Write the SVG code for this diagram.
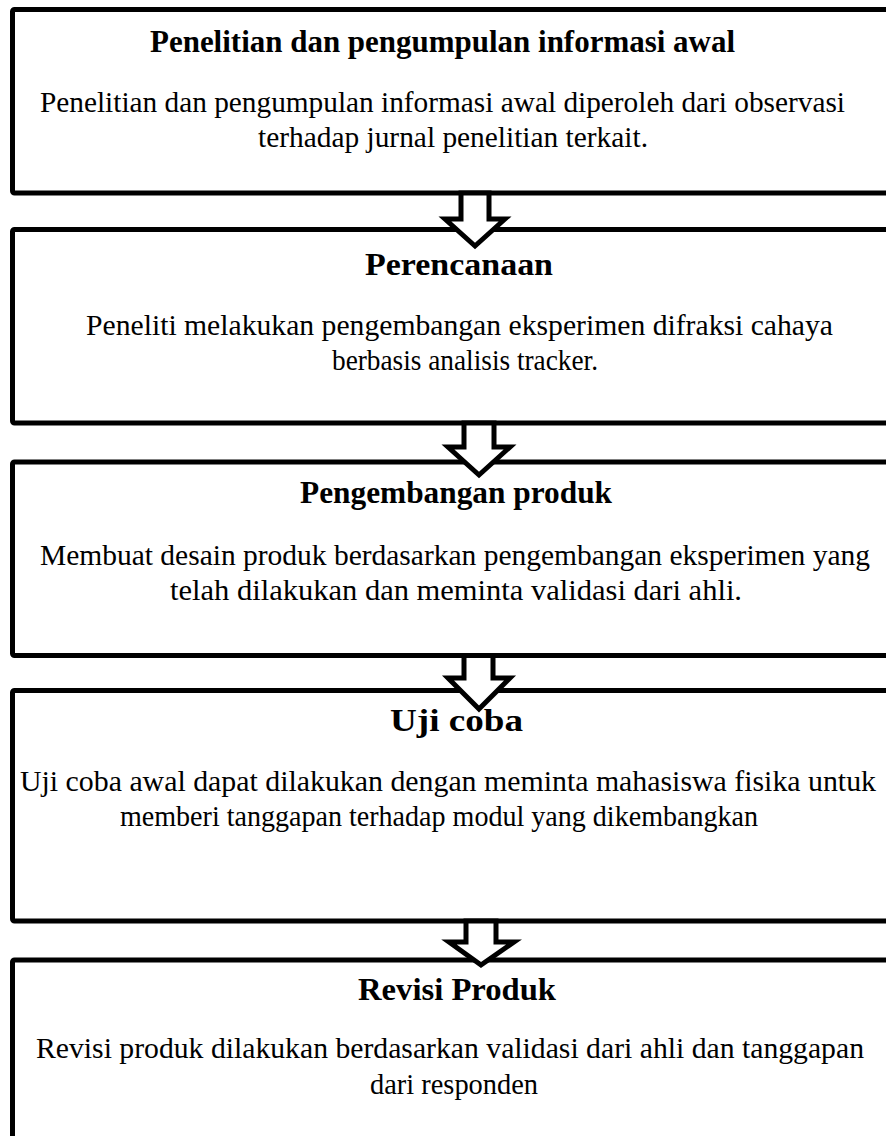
<svg xmlns="http://www.w3.org/2000/svg" width="886" height="1136" viewBox="0 0 886 1136">
<style>
.box{fill:#fff;stroke:#000;stroke-width:5;stroke-linejoin:round}
.arr{fill:#fff;stroke:#000;stroke-width:5;stroke-linejoin:miter}
.t{font-family:"Liberation Serif","Times New Roman",serif;font-size:31px;font-weight:bold;fill:#000;text-anchor:start}
.b{font-family:"Liberation Serif","Times New Roman",serif;font-size:29px;fill:#000;text-anchor:start}
</style>
<rect width="886" height="1136" fill="#fff"/>
<g id="n1">
<rect class="box" x="12.5" y="9.5" width="900" height="183.5" rx="2"/>
<text class="t" x="150" y="52" textLength="585" lengthAdjust="spacingAndGlyphs">Penelitian dan pengumpulan informasi awal</text>
<text class="b" x="40" y="112" textLength="805" lengthAdjust="spacingAndGlyphs">Penelitian dan pengumpulan informasi awal diperoleh dari observasi</text>
<text class="b" x="258" y="147" textLength="390" lengthAdjust="spacingAndGlyphs">terhadap jurnal penelitian terkait.</text>
</g>
<g id="n2">
<rect class="box" x="12.5" y="229.5" width="900" height="193.5" rx="2"/>
<text class="t" x="365" y="275" textLength="188" lengthAdjust="spacingAndGlyphs">Perencanaan</text>
<text class="b" x="86" y="335" textLength="747" lengthAdjust="spacingAndGlyphs">Peneliti melakukan pengembangan eksperimen difraksi cahaya</text>
<text class="b" x="332" y="370" textLength="266" lengthAdjust="spacingAndGlyphs">berbasis analisis tracker.</text>
</g>
<g id="n3">
<rect class="box" x="12.5" y="462" width="900" height="193.5" rx="2"/>
<text class="t" x="300" y="503" textLength="312" lengthAdjust="spacingAndGlyphs">Pengembangan produk</text>
<text class="b" x="40" y="565" textLength="830" lengthAdjust="spacingAndGlyphs">Membuat desain produk berdasarkan pengembangan eksperimen yang</text>
<text class="b" x="170" y="600" textLength="572" lengthAdjust="spacingAndGlyphs">telah dilakukan dan meminta validasi dari ahli.</text>
</g>
<g id="n4">
<rect class="box" x="12.5" y="690.5" width="900" height="230.5" rx="2"/>
<text class="t" x="390" y="731" textLength="133" lengthAdjust="spacingAndGlyphs">Uji coba</text>
<text class="b" x="20" y="791" textLength="856" lengthAdjust="spacingAndGlyphs">Uji coba awal dapat dilakukan dengan meminta mahasiswa fisika untuk</text>
<text class="b" x="120" y="826" textLength="638" lengthAdjust="spacingAndGlyphs">memberi tanggapan terhadap modul yang dikembangkan</text>
</g>
<g id="n5">
<rect class="box" x="12.5" y="960" width="900" height="260" rx="2"/>
<text class="t" x="358" y="1000" textLength="198" lengthAdjust="spacingAndGlyphs">Revisi Produk</text>
<text class="b" x="36" y="1058" textLength="828" lengthAdjust="spacingAndGlyphs">Revisi produk dilakukan berdasarkan validasi dari ahli dan tanggapan</text>
<text class="b" x="370" y="1094" textLength="168" lengthAdjust="spacingAndGlyphs">dari responden</text>
</g>
<g id="connectors">
<path class="arr" d="M461 193 H489 V219 H505 L475 246 L445 219 H461 Z"/>
<path class="arr" d="M464 423 H494 V447 H510 L479 475 L448 447 H464 Z"/>
<path class="arr" d="M464 655.5 H493 V678 H510 L479 709 L448 678 H464 Z"/>
<path class="arr" d="M466 921 H496 V942 H514 L481 965 L449 942 H466 Z"/>
</g>
</svg>
